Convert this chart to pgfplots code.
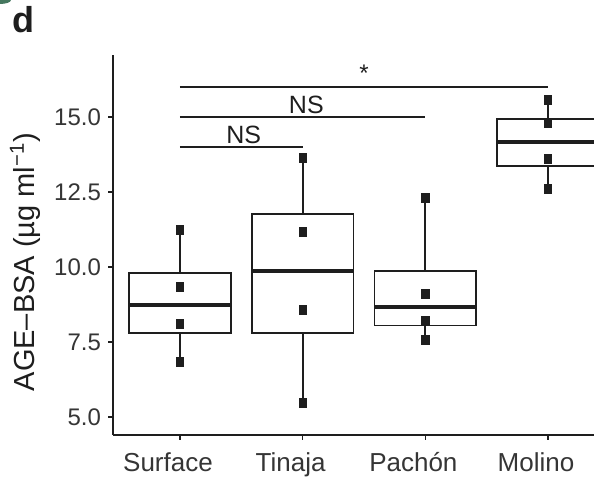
\documentclass[border=0pt]{standalone}
\usepackage{pgfplots}
\pgfplotsset{compat=1.18}
\usepackage{fontspec}
\setmainfont{Liberation Sans}
\definecolor{ink}{RGB}{30,30,30}
\definecolor{corner}{RGB}{70,120,95}
\begin{document}
\begin{tikzpicture}
\useasboundingbox (0,0) rectangle (297pt,240pt);
\clip (0,0) rectangle (297pt,240pt);
\fill[corner] (0,240pt) ellipse (5.5pt and 2pt);
\node[anchor=north west, inner sep=0pt, font=\bfseries\fontsize{18}{20}\selectfont, text=ink] at (6pt,237pt) {d};
\begin{axis}[
  at={(56.5pt,22.5pt)}, anchor=south west,
  scale only axis, width=251pt, height=190pt,
  xmin=0.454, xmax=4.546, ymin=4.4, ymax=17.07,
  axis lines=left, axis line style={-, line width=0.9pt, ink},
  xtick={1,2,3,4}, xticklabels={Surface,Tinaja,Pachón,Molino},
  ytick={5,7.5,10,12.5,15},
  yticklabel style={/pgf/number format/.cd, fixed, fixed zerofill, precision=1},
  /pgf/number format/assume math mode=true,
  tick align=outside, major tick length=2.5pt,
  tick style={line width=0.8pt, ink},
  ticklabel style={font=\fontsize{12}{14}\selectfont, text=ink!90},
  xticklabel style={font=\fontsize{13}{15}\selectfont, text height=10pt, text depth=3pt, xshift=-6pt, yshift=-2pt},
  ylabel={AGE–BSA (µg ml\textsuperscript{−1})},
  ylabel style={at={(axis description cs:-0.175,0.455)}, anchor=center, font=\fontsize{14.5}{16}\selectfont, text=ink},
  clip=false,
]
% significance brackets
\addplot[ink, line width=0.8pt] coordinates {(1,16) (4,16)};
\addplot[ink, line width=0.8pt] coordinates {(1,15) (3,15)};
\addplot[ink, line width=0.8pt] coordinates {(1,14) (2,14)};
\node[font=\fontsize{12}{13}\selectfont, text=ink] at (axis cs:2.5,16.45) {*};
\node[font=\fontsize{12.5}{14}\selectfont, text=ink] at (axis cs:2.03,15.4) {NS};
\node[font=\fontsize{12.5}{14}\selectfont, text=ink] at (axis cs:1.52,14.4) {NS};
% whiskers
\addplot[ink, line width=0.9pt] coordinates {(1,6.84) (1,11.23)};
\addplot[ink, line width=0.9pt] coordinates {(2,5.46) (2,13.63)};
\addplot[ink, line width=0.9pt] coordinates {(3,7.57) (3,12.30)};
\addplot[ink, line width=0.9pt] coordinates {(4,12.62) (4,15.57)};
% boxes (Q1, Q3)
\addplot[draw=ink, fill=white, line width=0.9pt] coordinates {(0.585,7.80) (1.415,7.80) (1.415,9.81) (0.585,9.81)} -- cycle;
\addplot[draw=ink, fill=white, line width=0.9pt] coordinates {(1.585,7.79) (2.415,7.79) (2.415,11.77) (1.585,11.77)} -- cycle;
\addplot[draw=ink, fill=white, line width=0.9pt] coordinates {(2.585,8.05) (3.415,8.05) (3.415,9.88) (2.585,9.88)} -- cycle;
\addplot[draw=ink, fill=white, line width=0.9pt] coordinates {(3.585,13.37) (4.415,13.37) (4.415,14.93) (3.585,14.93)} -- cycle;
% medians
\addplot[ink, line width=2pt] coordinates {(0.585,8.73) (1.415,8.73)};
\addplot[ink, line width=2pt] coordinates {(1.585,9.88) (2.415,9.88)};
\addplot[ink, line width=2pt] coordinates {(2.585,8.66) (3.415,8.66)};
\addplot[ink, line width=2pt] coordinates {(3.585,14.18) (4.415,14.18)};
% points
\addplot[only marks, mark=square*, mark size=1.8pt, mark options={fill=ink, draw=ink, yscale=1.25}] coordinates {
(1,6.84) (1,8.12) (1,9.34) (1,11.23)
(2,5.46) (2,8.57) (2,11.18) (2,13.63)
(3,7.57) (3,8.21) (3,9.10) (3,12.30)
(4,12.62) (4,13.62) (4,14.79) (4,15.57)
};
\end{axis}
\end{tikzpicture}
\end{document}
